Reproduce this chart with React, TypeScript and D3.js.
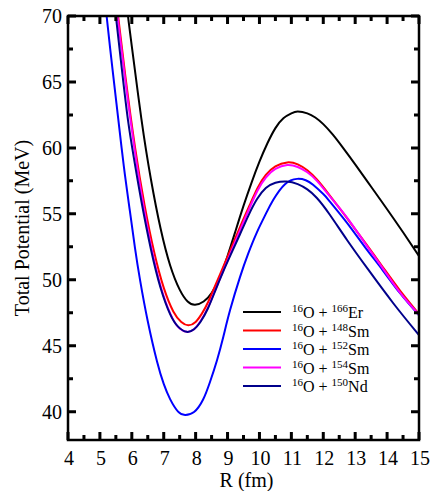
import React, { useRef, useEffect } from 'react';
import * as d3 from 'd3';

// R (fm) / V (MeV)
const erR = [5.75, 5.88, 6.0, 6.3, 6.6, 6.9, 7.2, 7.5, 7.75, 7.98, 8.25, 8.5, 8.75, 9.0, 9.25, 9.5, 9.75, 10.0, 10.25, 10.5, 10.75, 11.0, 11.2, 11.5, 11.75, 12.0, 12.3, 12.62, 13.0, 13.5, 14.0, 14.5, 15];
const erV = [72.8, 70.0, 67.7, 62.2, 57.6, 53.9, 51.1, 49.25, 48.35, 48.1, 48.35, 49.0, 50.15, 51.8, 53.7, 55.6, 57.35, 58.95, 60.35, 61.5, 62.25, 62.62, 62.75, 62.62, 62.3, 61.8, 61.0, 60.0, 58.75, 57.05, 55.35, 53.6, 51.8];

const sm148R = [5.45, 5.57, 5.8, 6.1, 6.4, 6.7, 7.0, 7.3, 7.55, 7.77, 8.0, 8.2, 8.4, 8.7, 9.0, 9.4, 9.7, 9.95, 10.2, 10.5, 10.87, 11.2, 11.5, 11.8, 12.2, 12.75, 13.3, 13.87, 14.4, 15];
const sm148V = [72.65, 70.0, 65.4, 60.05, 55.65, 52.1, 49.4, 47.6, 46.8, 46.55, 46.8, 47.45, 48.35, 50.05, 51.75, 54.05, 55.7, 57.0, 57.95, 58.6, 58.9, 58.75, 58.3, 57.6, 56.4, 54.65, 52.85, 50.95, 49.2, 47.4];

const sm152R = [5.1, 5.21, 5.4, 5.57, 5.75, 5.94, 6.1, 6.26, 6.5, 6.79, 7.0, 7.2, 7.45, 7.67, 7.95, 8.23, 8.45, 8.67, 8.87, 9.08, 9.39, 9.65, 9.92, 10.2, 10.43, 10.8, 11.18, 11.45, 11.68, 12.0, 12.2, 12.75, 13.3, 13.87, 14.4, 15];
const sm152V = [72.6, 70.0, 65.85, 62.3, 58.6, 55.2, 52.4, 49.95, 46.85, 43.8, 42.1, 40.95, 40.0, 39.75, 39.97, 40.9, 42.25, 43.9, 45.7, 47.7, 50.2, 52.0, 53.6, 55.0, 56.05, 57.25, 57.65, 57.55, 57.2, 56.5, 55.95, 54.3, 52.5, 50.7, 49.0, 47.3];

const sm154R = [5.43, 5.55, 5.78, 6.08, 6.38, 6.68, 6.98, 7.28, 7.5, 7.72, 7.95, 8.15, 8.38, 8.68, 9.0, 9.4, 9.7, 9.95, 10.2, 10.5, 10.87, 11.2, 11.5, 11.8, 12.2, 12.75, 13.3, 13.87, 14.4, 15];
const sm154V = [72.7, 70.0, 65.4, 60.0, 55.4, 51.7, 48.9, 47.05, 46.3, 46.05, 46.25, 46.85, 47.85, 49.6, 51.45, 53.8, 55.5, 56.8, 57.75, 58.4, 58.7, 58.55, 58.15, 57.5, 56.35, 54.7, 52.8, 50.85, 49.05, 47.35];

const nd150R = [5.38, 5.5, 5.7, 5.88, 6.06, 6.3, 6.6, 6.9, 7.2, 7.45, 7.72, 7.95, 8.15, 8.38, 8.62, 8.86, 9.1, 9.39, 9.65, 9.92, 10.2, 10.5, 10.85, 11.2, 11.5, 11.8, 12.2, 12.75, 13.4, 14.2, 15];
const nd150V = [72.6, 70.0, 65.7, 62.1, 59.3, 55.95, 52.3, 49.4, 47.4, 46.45, 46.05, 46.25, 46.8, 47.8, 49.2, 50.6, 51.9, 53.45, 54.85, 56.1, 56.95, 57.35, 57.45, 57.25, 56.85, 56.2, 54.95, 53.0, 50.8, 48.2, 45.8];

const seriesNames = ['166Er', '148Sm', '152Sm', '154Sm', '150Nd'];
const seriesColors = ['#000000', '#ff0000', '#0000ff', '#ff00ff', '#00008b'];
const seriesR = [erR, sm148R, sm152R, sm154R, nd150R];
const seriesV = [erV, sm148V, sm152V, sm154V, nd150V];

const xTicks = [4, 5, 6, 7, 8, 9, 10, 11, 12, 13, 14, 15];
const yTicks = [40, 45, 50, 55, 60, 65, 70];

export default function App() {
  const ref = useRef<SVGSVGElement>(null);

  useEffect(() => {
    const W = 436, H = 491;
    const left = 68, right = 419, top = 16, bottom = 440;
    const serif = '"Liberation Serif", "Times New Roman", serif';

    const svg = d3.select(ref.current);
    svg.selectAll('*').remove();
    svg.attr('width', W).attr('height', H);

    const x = d3.scaleLinear().domain([4, 15]).range([left, right]);
    const y = d3.scaleLinear().domain([37.85, 70]).range([bottom, top]);

    svg.append('defs').append('clipPath').attr('id', 'plotclip')
      .append('rect')
      .attr('x', left).attr('y', top)
      .attr('width', right - left).attr('height', bottom - top);

    // curves
    const line = d3.line<[number, number]>()
      .x(d => x(d[0]))
      .y(d => y(d[1]))
      .curve(d3.curveNatural);

    const g = svg.append('g').attr('clip-path', 'url(#plotclip)');
    seriesR.forEach((rs, i) => {
      const pts: [number, number][] = rs.map((r, j) => [r, seriesV[i][j]]);
      g.append('path')
        .attr('d', line(pts))
        .attr('fill', 'none')
        .attr('stroke', seriesColors[i])
        .attr('stroke-width', 2);
    });

    // frame
    svg.append('rect')
      .attr('x', left).attr('y', top)
      .attr('width', right - left).attr('height', bottom - top)
      .attr('fill', 'none').attr('stroke', '#000').attr('stroke-width', 2.5);

    // inward ticks on all four sides, one path
    const minorX = d3.range(4.5, 15, 1);
    const minorY = d3.range(42.5, 70, 5);
    const p = d3.path();
    const addX = (vals: number[], len: number) => vals.forEach(t => {
      p.moveTo(x(t), bottom); p.lineTo(x(t), bottom - len);
      p.moveTo(x(t), top); p.lineTo(x(t), top + len);
    });
    const addY = (vals: number[], len: number) => vals.forEach(t => {
      p.moveTo(left, y(t)); p.lineTo(left + len, y(t));
      p.moveTo(right, y(t)); p.lineTo(right - len, y(t));
    });
    addX(xTicks, 8); addX(minorX, 5);
    addY(yTicks, 8); addY(minorY, 5);
    svg.append('path')
      .attr('d', p.toString())
      .attr('fill', 'none')
      .attr('stroke', '#000')
      .attr('stroke-width', 3);

    // tick labels
    svg.append('g').selectAll('text').data(xTicks).enter().append('text')
      .attr('x', d => x(d) + 1).attr('y', 465)
      .attr('text-anchor', 'middle')
      .attr('font-family', serif).attr('font-size', 20)
      .text(d => d);
    svg.append('g').selectAll('text').data(yTicks).enter().append('text')
      .attr('x', 62).attr('y', d => y(d) + 7)
      .attr('text-anchor', 'end')
      .attr('font-family', serif).attr('font-size', 20)
      .text(d => d);

    // axis titles
    svg.append('text')
      .attr('x', (left + right) / 2 + 3).attr('y', 487)
      .attr('text-anchor', 'middle')
      .attr('font-family', serif).attr('font-size', 20)
      .text('R (fm)');
    svg.append('text')
      .attr('transform', `translate(29,${(top + bottom) / 2}) rotate(-90)`)
      .attr('text-anchor', 'middle')
      .attr('font-family', serif).attr('font-size', 20)
      .text('Total Potential (MeV)');

    // legend
    const lg = svg.append('g');
    seriesNames.forEach((name, i) => {
      const ly = 312 + i * 18.5;
      lg.append('line')
        .attr('x1', 243).attr('x2', 281).attr('y1', ly).attr('y2', ly)
        .attr('stroke', seriesColors[i]).attr('stroke-width', 2);
      const mass = name.match(/\d+/)![0];
      const el = name.replace(/\d+/, '');
      const t = lg.append('text')
        .attr('x', 292).attr('y', ly + 6)
        .attr('font-family', serif).attr('font-size', 16);
      t.append('tspan').attr('font-size', 11).attr('dy', -6).text('16');
      t.append('tspan').attr('dy', 6).text('O + ');
      t.append('tspan').attr('font-size', 11).attr('dy', -6).text(mass);
      t.append('tspan').attr('dy', 6).text(el);
    });
  }, []);

  return (
    <div>
      <svg ref={ref} style={{ position: 'absolute', left: 0, top: 0 }} />
    </div>
  );
}
